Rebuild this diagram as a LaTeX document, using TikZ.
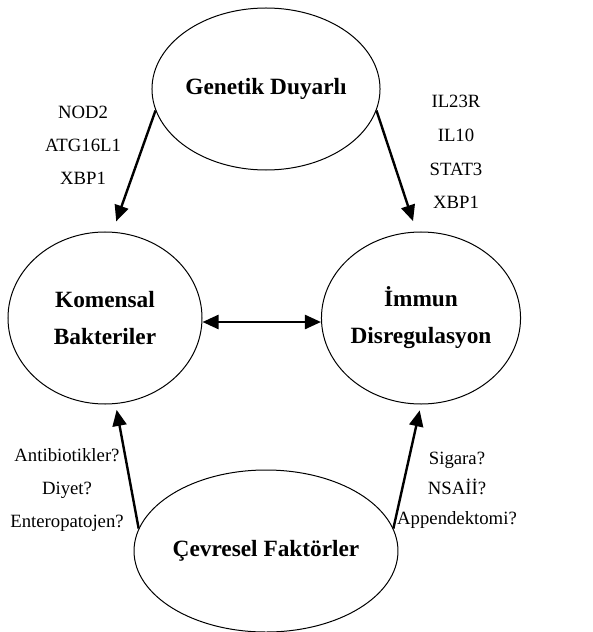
\documentclass[tikz,border=0pt]{standalone}
\usepackage{fontspec}
\setmainfont{Liberation Serif}
\usetikzlibrary{arrows.meta,shapes.geometric}
\begin{document}
\begin{tikzpicture}[x=0.5bp,y=-0.5bp,>={Triangle[length=8bp,width=7bp]},
    factor/.style={draw,ellipse,line width=0.5bp,inner sep=0pt,align=center,
        font=\fontsize{11.7}{18.5}\selectfont\bfseries},
    link/.style={->,line width=1.2bp},
    gene/.style={align=center,font=\fontsize{9.4}{16.5}\selectfont}]
        \useasboundingbox (0,0) rectangle (593,632);

        % draw the four factors
        \node[factor,minimum width=113bp,minimum height=81bp] (gen) at (266,89) {Genetik Duyarlı};
        \node[factor,minimum width=97bp,minimum height=86bp] (kom) at (105,318) {Komensal\\Bakteriler};
        \node[factor,minimum width=97bp,minimum height=86bp] (imm) at (421,318) {İmmun\\Disregulasyon};
        \node[factor,minimum width=113bp,minimum height=81bp] (cev) at (266,551) {Çevresel Faktörler};

        % draw the links between them
        \draw[link,shorten >=5.5bp] (gen.191) -- (kom.85);
        \draw[link,shorten >=5.5bp] (gen.349) -- (imm.93);
        \draw[link,<->] ([yshift=-2bp]kom.east) -- ([yshift=-2bp]imm.west);
        \draw[link,shorten >=3bp] (cev.170) -- (kom.277);
        \draw[link,shorten >=3bp] (cev.10) -- (imm.270);

        % draw the genes and the risk factors
        \node[gene] (lnod) at (83,145) {NOD2\\ATG16L1\\XBP1};
        \node[gene,font=\fontsize{9.4}{17}\selectfont] (lil) at (456,152) {IL23R\\IL10\\STAT3\\XBP1};
        \node[gene] (lenv) at (67,490) {Antibiotikler?\\Diyet?\\Enteropatojen?};
        \node[gene,font=\fontsize{9.4}{15}\selectfont] (lsig) at (457,490) {Sigara?\\NSAİİ?\\Appendektomi?};
\end{tikzpicture}
\end{document}
